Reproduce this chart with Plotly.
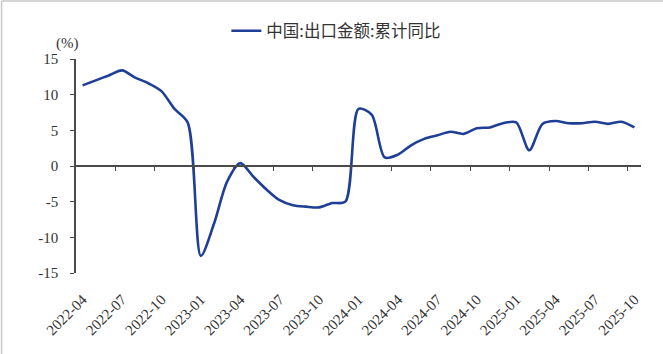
import plotly.graph_objects as go

months = ["2022-04","2022-05","2022-06","2022-07","2022-08","2022-09","2022-10","2022-11","2022-12",
          "2023-01","2023-02","2023-03","2023-04","2023-05","2023-06","2023-07","2023-08","2023-09",
          "2023-10","2023-11","2023-12","2024-01","2024-02","2024-03","2024-04","2024-05","2024-06",
          "2024-07","2024-08","2024-09","2024-10","2024-11","2024-12","2025-01","2025-02","2025-03",
          "2025-04","2025-05","2025-06","2025-07","2025-08","2025-09","2025-10"]
export_yoy = [11.3, 12.0, 12.7, 13.4, 12.4, 11.6, 10.5, 8.0, 6.1,
              -12.6, -8.1, -2.2, 0.4, -1.5, -3.3, -4.8, -5.5, -5.7,
              -5.8, -5.2, -5.0, 8.0, 7.2, 1.2, 1.6, 2.9, 3.8,
              4.3, 4.8, 4.5, 5.3, 5.4, 6.0, 6.1, 2.2, 5.9,
              6.3, 6.0, 6.0, 6.2, 5.9, 6.2, 5.4]
tick_labels = months[::3]
y_ticks = [-15, -10, -5, 0, 5, 10, 15]
y_tick_text = ["-15", "-10", "-5", "0", "5", "10", "15"]
series_name = "中国:出口金额:累计同比"

W, H = 663, 354
L, R, T, B = 75.5, 22, 59, 81
plot_w = W - L - R
plot_h = H - T - B

idx = list(range(len(months)))
fig = go.Figure()
fig.add_trace(go.Scatter(x=idx, y=export_yoy, mode="lines", name=series_name,
                         line=dict(color="#1F3F96", width=2.6, shape="spline", smoothing=0.8)))
# invisible helper trace for the zero-crossing category axis
fig.add_trace(go.Scatter(x=[idx[0], idx[-1]], y=[0, 0], xaxis="x2", mode="lines",
                         line=dict(width=0), showlegend=False, hoverinfo="skip"))

serif = "Liberation Serif, Times New Roman, serif"
axis_col = "#4a4a4a"
fig.update_layout(
    width=W, height=H,
    margin=dict(l=L, r=R, t=T, b=B, pad=0),
    paper_bgcolor="white", plot_bgcolor="white",
    showlegend=True,
    legend=dict(orientation="h", x=(226 - L) / plot_w, xanchor="left",
                y=1 + (T - 31) / plot_h, yanchor="middle",
                font=dict(family="Noto Sans CJK SC", size=16.5, color="#333333"),
                bgcolor="rgba(0,0,0,0)"),
    xaxis=dict(range=[-0.5, len(months) - 0.5], tickmode="array",
               tickvals=idx[::3], ticktext=tick_labels, tickangle=-45,
               showline=False, ticks="", showgrid=False, zeroline=False,
               ticklabelstandoff=14,
               tickfont=dict(family=serif, size=15, color="#333333")),
    xaxis2=dict(range=[-0.5, len(months) - 0.5], overlaying="x", anchor="free",
                position=0.5, side="bottom", tickmode="array",
                tickvals=[3 * j - 0.5 for j in range(1, 15)],
                showticklabels=False, ticks="outside", ticklen=4, tickwidth=1.2,
                tickcolor=axis_col, showline=True, linecolor=axis_col, linewidth=1.5,
                showgrid=False, zeroline=False),
    yaxis=dict(range=[-15, 15], tickmode="array", tickvals=y_ticks, ticktext=y_tick_text,
               showline=True, linecolor=axis_col, linewidth=1.5,
               ticks="outside", ticklen=4, tickwidth=1.2, tickcolor=axis_col,
               showgrid=False, zeroline=False, ticklabelstandoff=9,
               tickfont=dict(family=serif, size=15, color="#333333")),
    annotations=[dict(text="(%)", xref="paper", yref="paper",
                      x=(67 - L) / plot_w, y=1 + (T - 43) / plot_h,
                      xanchor="center", yanchor="middle", showarrow=False,
                      font=dict(family=serif, size=15, color="#333333"))],
    shapes=[
        dict(type="line", xref="paper", yref="paper",
             x0=(1 - L) / plot_w, x1=(W - L) / plot_w,
             y0=1 + (T - 1) / plot_h, y1=1 + (T - 1) / plot_h,
             line=dict(color="#C8C8C8", width=1.5)),
        dict(type="line", xref="paper", yref="paper",
             x0=(1 - L) / plot_w, x1=(1 - L) / plot_w,
             y0=-(B) / plot_h, y1=1 + (T - 1) / plot_h,
             line=dict(color="#C8C8C8", width=1.5)),
    ],
)
fig.write_html("out.html")
